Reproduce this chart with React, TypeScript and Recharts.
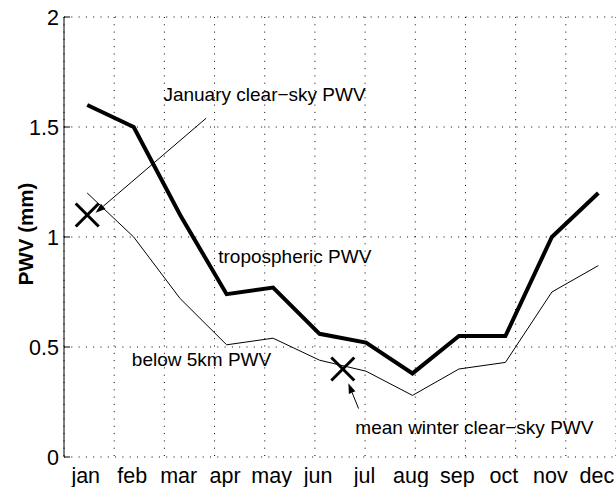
import React from 'react';
import {
  ComposedChart, Line, XAxis, YAxis, CartesianGrid, Scatter, ReferenceLine, ReferenceDot,
} from 'recharts';

const months = ['jan', 'feb', 'mar', 'apr', 'may', 'jun', 'jul', 'aug', 'sep', 'oct', 'nov', 'dec'];
const tropospheric = [1.6, 1.5, 1.1, 0.74, 0.77, 0.56, 0.52, 0.38, 0.55, 0.55, 1.0, 1.2];
const below5km = [1.2, 1.0, 0.72, 0.51, 0.54, 0.44, 0.39, 0.28, 0.4, 0.43, 0.75, 0.87];
const monthCenters = months.map((_, i) => i + 0.5);
const monthBoundaries = [1, 2, 3, 4, 5, 6, 7, 8, 9, 10, 11];
const yTicks = [0, 0.5, 1, 1.5, 2];

const markerX = [0.5, 6.0];
const markerY = [1.1, 0.4];

const arrowJanuary = [{ x: 3.06, y: 1.54 }, { x: 0.68, y: 1.11 }];
const arrowWinter = [{ x: 6.34, y: 0.22 }, { x: 6.12, y: 0.335 }];

const annotationText = ['January clear\u2212sky PWV', 'tropospheric PWV', 'below 5km PWV', 'mean winter clear\u2212sky PWV'];
const annotationX = [2.14, 3.32, 1.46, 6.27];
const annotationY = [1.617, 0.88, 0.415, 0.103];

const X_MAX = 11.88;
const FONT = '"Liberation Sans", Arial, Helvetica, sans-serif';

const data = months.map((m, i) => ({ x: monthCenters[i], trop: tropospheric[i], below: below5km[i] }));
const markers = markerX.map((x, i) => ({ x, y: markerY[i] }));

const XMark = (props: any) => {
  const { cx, cy } = props;
  const h = 11.5;
  return (
    <g>
      <line x1={cx - h} y1={cy - h} x2={cx + h} y2={cy + h} stroke="#000" strokeWidth={3} />
      <line x1={cx - h} y1={cy + h} x2={cx + h} y2={cy - h} stroke="#000" strokeWidth={3} />
    </g>
  );
};

const Arrow = (props: any) => {
  const { x1, y1, x2, y2 } = props;
  const ang = Math.atan2(y2 - y1, x2 - x1);
  const len = 10;
  const hw = 3.5;
  const bx = x2 - len * Math.cos(ang);
  const by = y2 - len * Math.sin(ang);
  const px = -Math.sin(ang) * hw;
  const py = Math.cos(ang) * hw;
  return (
    <g>
      <line x1={x1} y1={y1} x2={bx} y2={by} stroke="#000" strokeWidth={1} />
      <polygon points={`${x2},${y2} ${bx + px},${by + py} ${bx - px},${by - py}`} fill="#000" />
    </g>
  );
};

const textShape = (label: string) => (props: any) => (
  <text x={props.cx} y={props.cy} fontSize={19} fontFamily={FONT} fill="#000">{label}</text>
);

const XTick = (props: any) => {
  const { x, y, payload } = props;
  return (
    <text x={x - 1.5} y={y} dy="0.71em" textAnchor="middle" fontSize={21.5} fontFamily={FONT} fill="#000">
      {months[Math.floor(payload.value)]}
    </text>
  );
};

const YTick = (props: any) => {
  const { x, y, payload } = props;
  return (
    <text x={x} y={y} dy="0.355em" textAnchor="end" fontSize={21.5} fontFamily={FONT} fill="#000">
      {payload.value}
    </text>
  );
};

const YLabel = (props: any) => {
  const vb = props.viewBox || { x: 0, y: 17, width: 64, height: 440 };
  const x = vb.x + 33;
  const y = vb.y + vb.height / 2 - 3;
  return (
    <text x={x} y={y} transform={`rotate(-90, ${x}, ${y})`} textAnchor="middle" fontSize={20.5}
      fontWeight="bold" fontFamily={FONT} fill="#000">PWV (mm)</text>
  );
};

export default function App() {
  return (
    <div style={{ position: 'absolute', left: 0, top: 0, width: 616, height: 487, background: '#fff' }}>
      <ComposedChart width={616} height={487} data={data} margin={{ top: 17, right: 0, bottom: 0, left: 0 }}>
        <CartesianGrid xAxisId="b" stroke="#000" strokeDasharray="1 6.3" />
        <XAxis xAxisId="b" type="number" domain={[0, X_MAX]} ticks={monthBoundaries} height={0}
          tickSize={-6} tickFormatter={() => ''} axisLine={{ stroke: '#000' }} tickLine={{ stroke: '#000' }} />
        <XAxis xAxisId="c" type="number" dataKey="x" domain={[0, X_MAX]} ticks={monthCenters} height={30}
          axisLine={false} tickLine={false} tickSize={0} tickMargin={11}
          tick={<XTick />} />
        <XAxis xAxisId="t" orientation="top" type="number" domain={[0, X_MAX]} ticks={monthBoundaries} height={0}
          tickSize={-6} tickFormatter={() => ''} axisLine={{ stroke: '#000' }} tickLine={{ stroke: '#000' }} />
        <YAxis type="number" domain={[0, 2]} ticks={yTicks} width={64} tickSize={-6} tickMargin={11}
          axisLine={{ stroke: '#000' }} tickLine={{ stroke: '#000' }}
          tick={<YTick />}
          label={<YLabel />} />
        <Line xAxisId="c" dataKey="below" stroke="#000" strokeWidth={1} dot={false} isAnimationActive={false} />
        <Line xAxisId="c" dataKey="trop" stroke="#000" strokeWidth={4} dot={false} isAnimationActive={false} />
        <Scatter xAxisId="c" data={markers} dataKey="y" shape={<XMark />} isAnimationActive={false} />
        <ReferenceLine xAxisId="c" segment={arrowJanuary} shape={(p: any) => <Arrow {...p} />} />
        <ReferenceLine xAxisId="c" segment={arrowWinter} shape={(p: any) => <Arrow {...p} />} />
        {annotationText.map((t, i) => (
          <ReferenceDot key={t} xAxisId="c" x={annotationX[i]} y={annotationY[i]} r={0}
            shape={textShape(t)} />
        ))}
      </ComposedChart>
    </div>
  );
}
